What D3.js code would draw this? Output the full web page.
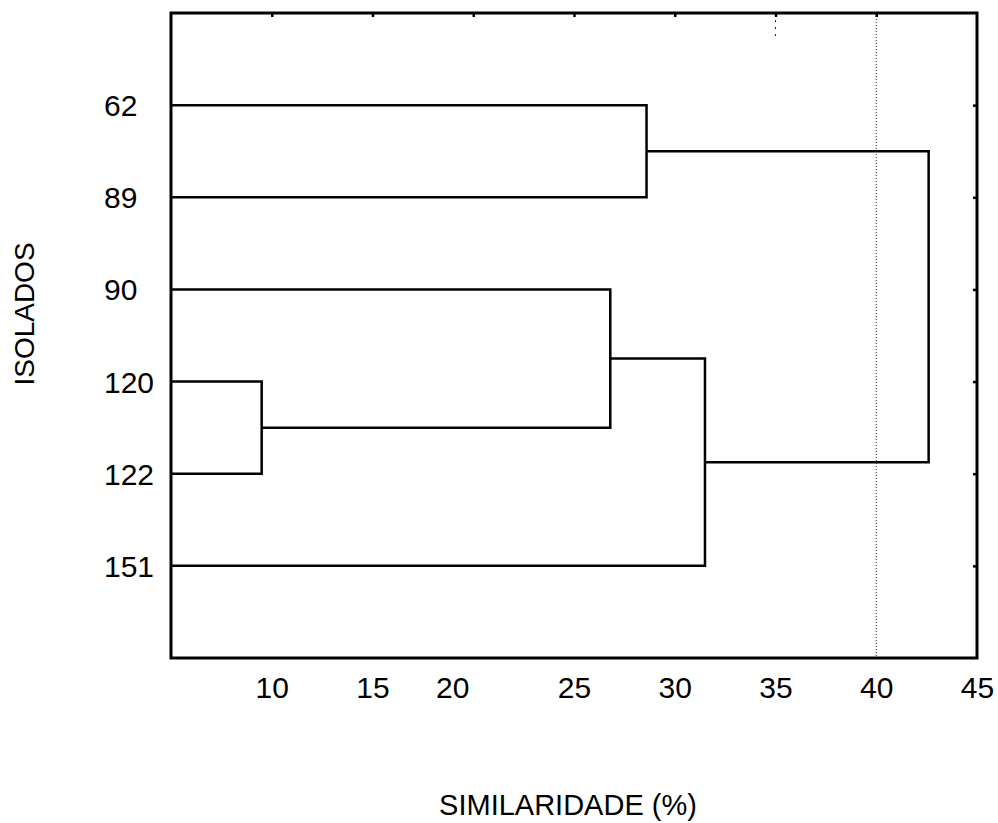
<!DOCTYPE html>
<html>
<head>
<meta charset="utf-8">
<script src="https://cdn.jsdelivr.net/npm/d3@7"></script>
<style>
    body { margin: 0; background: #fff; }
    text { font-family: "Liberation Sans", Arial, sans-serif; fill: #000; }
</style>
</head>
<body>
<div id="graph_area"></div>
<script>
//leaves of the dendrogram, top to bottom
var leaves = ["62", "89", "90", "120", "122", "151"];

//merges (like a linkage matrix): node 6 is the first merge, 7 the second, ...
var linkLeft   = [0, 3, 2, 8, 6];
var linkRight  = [1, 4, 7, 5, 9];
var linkHeight = [28.6, 9.5, 26.8, 31.5, 42.6];

//axis
var tickValues = [10, 15, 20, 25, 30, 35, 40, 45];
var cutLine = 40;

function draw() {
    var w = 998, h = 823;
    var left = 171, right = 977, top = 13, bottom = 658;

    var svg = d3.select('#graph_area').append('svg')
        .attr('width', w)
        .attr('height', h);

    var x = d3.scaleLinear().domain([5, 45]).range([left, right]);
    var y = d3.scalePoint().domain(leaves).range([top, bottom]).padding(1);

    //node positions: leaves first, then each merge
    var nodeX = [], nodeY = [];
    leaves.forEach(function(d) {
        nodeX.push(x.domain()[0]);
        nodeY.push(y(d));
    });
    for(let i = 0; i < linkHeight.length; i++) {
        let a = linkLeft[i], b = linkRight[i];
        nodeX.push(linkHeight[i]);
        nodeY.push((nodeY[a] + nodeY[b]) / 2);
    }

    //dotted cut line
    svg.append('line')
        .attr('x1', x(cutLine)).attr('x2', x(cutLine))
        .attr('y1', top).attr('y2', bottom)
        .attr('stroke', '#222')
        .attr('stroke-width', 1)
        .attr('stroke-dasharray', '1,2');

    //small dotted leftover near the top at 35
    svg.append('line')
        .attr('x1', x(35)).attr('x2', x(35))
        .attr('y1', top).attr('y2', top + 24)
        .attr('stroke', '#222')
        .attr('stroke-width', 1)
        .attr('stroke-dasharray', '2,5');

    //branches
    svg.append('g')
        .selectAll('path')
        .data(linkHeight)
        .enter().append('path')
            .attr('fill', 'none')
            .attr('stroke', '#000')
            .attr('stroke-width', 2.5)
            .attr('d', function(d, i) {
                let a = linkLeft[i], b = linkRight[i];
                return 'M' + x(nodeX[a]) + ',' + nodeY[a] +
                    'H' + x(d) + 'V' + nodeY[b] + 'H' + x(nodeX[b]);
            });

    //frame
    svg.append('rect')
        .attr('x', left).attr('y', top)
        .attr('width', right - left).attr('height', bottom - top)
        .attr('fill', 'none')
        .attr('stroke', '#000')
        .attr('stroke-width', 3);

    //top ticks (inward)
    svg.append('g')
        .attr('transform', 'translate(0,' + top + ')')
        .call(d3.axisTop(x).tickValues(tickValues.slice(0, -1)).tickSize(-4).tickFormat(''))
        .call(g => g.select('.domain').remove())
        .selectAll('line').attr('stroke-width', 2.5);

    //right ticks (inward)
    svg.append('g')
        .attr('transform', 'translate(' + right + ',0)')
        .call(d3.axisRight(y).tickSize(-4).tickFormat(''))
        .call(g => g.select('.domain').remove())
        .selectAll('line').attr('stroke-width', 2.5);

    //bottom labels
    var bottomAxis = svg.append('g')
        .attr('transform', 'translate(0,' + bottom + ')')
        .call(d3.axisBottom(x).tickValues(tickValues).tickSize(0).tickPadding(19));
    bottomAxis.select('.domain').remove();
    bottomAxis.selectAll('text')
        .style('font-size', '30px')
        .attr('dy', '0.71em')
        .attr('dx', function(d) { return d == 20 ? -21 : 0; });

    //leaf labels
    svg.append('g')
        .selectAll('text')
        .data(leaves)
        .enter().append('text')
            .attr('x', 104)
            .attr('y', function(d) { return y(d) + 11; })
            .style('font-size', '30px')
            .text(function(d) { return d; });

    //axis titles
    svg.append('text')
        .attr('x', 568).attr('y', 815)
        .attr('text-anchor', 'middle')
        .style('font-size', '29px')
        .text('SIMILARIDADE (%)');

    svg.append('text')
        .attr('transform', 'translate(34,314) rotate(-90)')
        .attr('text-anchor', 'middle')
        .style('font-size', '28px')
        .text('ISOLADOS');
}

window.onload = draw;
</script>
</body>
</html>
